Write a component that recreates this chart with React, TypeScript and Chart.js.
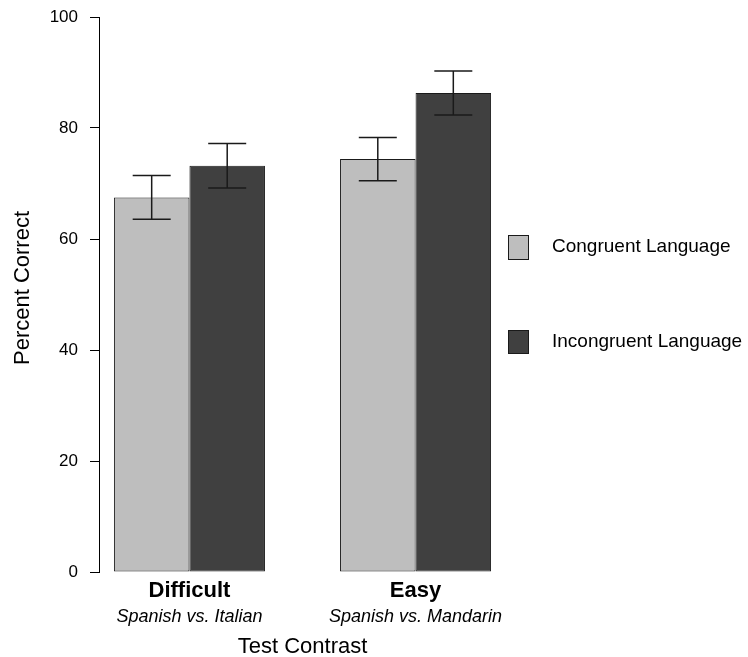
import React, { useEffect, useRef } from "react";
import { Chart, registerables } from "chart.js";

Chart.register(...registerables);

const categories = ["Difficult", "Easy"];
const subLabels = ["Spanish vs. Italian", "Spanish vs. Mandarin"];
const seriesNames = ["Congruent Language", "Incongruent Language"];
const congruent = [67.5, 74.4];
const incongruent = [73.2, 86.3];
const congruentErr = [3.95, 3.9];
const incongruentErr = [4.0, 3.95];
const yTicks = [0, 20, 40, 60, 80, 100];
const xTitle = "Test Contrast";
const yTitle = "Percent Correct";
const colors = ["#BEBEBE", "#404040"];

const FONT = "'Liberation Sans', Arial, Helvetica, sans-serif";

const overlayPlugin = {
  id: "overlay",
  afterDatasetsDraw(chart: any) {
    const ctx = chart.ctx;
    const errs = [congruentErr, incongruentErr];
    const yS = chart.scales.y;
    ctx.save();
    ctx.strokeStyle = "#1a1a1a";
    ctx.lineWidth = 1.5;
    chart.data.datasets.forEach((ds: any, di: number) => {
      const meta = chart.getDatasetMeta(di);
      meta.data.forEach((bar: any, i: number) => {
        const v = ds.data[i].y;
        const e = errs[di][i];
        const x = bar.x;
        const yt = yS.getPixelForValue(v + e);
        const yb = yS.getPixelForValue(v - e);
        const cap = 19;
        ctx.beginPath();
        ctx.moveTo(x, yt);
        ctx.lineTo(x, yb);
        ctx.moveTo(x - cap, yt);
        ctx.lineTo(x + cap, yt);
        ctx.moveTo(x - cap, yb);
        ctx.lineTo(x + cap, yb);
        ctx.stroke();
      });
    });
    ctx.restore();
  },
  afterDraw(chart: any) {
    const ctx = chart.ctx;
    const xS = chart.scales.x;
    ctx.save();
    ctx.fillStyle = "#000";
    ctx.textAlign = "center";
    ctx.textBaseline = "alphabetic";
    categories.forEach((c, i) => {
      const x = xS.getPixelForValue(i);
      ctx.font = `bold 22px ${FONT}`;
      ctx.fillText(c, x, 597);
      ctx.font = `italic 18px ${FONT}`;
      ctx.fillText(subLabels[i], x, 622);
    });
    ctx.font = `22px ${FONT}`;
    const cx = (xS.getPixelForValue(0) + xS.getPixelForValue(1)) / 2;
    ctx.fillText(xTitle, cx, 653);

    // y title
    ctx.save();
    ctx.translate(23, 288);
    ctx.rotate(-Math.PI / 2);
    ctx.textBaseline = "middle";
    ctx.font = `22px ${FONT}`;
    ctx.fillText(yTitle, 0, 0);
    ctx.restore();

    // legend
    const boxes = [
      { y: 235, h: 24, ty: 247 },
      { y: 330, h: 23, ty: 342 },
    ];
    seriesNames.forEach((name, i) => {
      const b = boxes[i];
      ctx.fillStyle = colors[i];
      ctx.fillRect(508.5, b.y + 0.5, 20, b.h);
      ctx.strokeStyle = "#1a1a1a";
      ctx.lineWidth = 1;
      ctx.strokeRect(508.5, b.y + 0.5, 20, b.h);
      ctx.fillStyle = "#000";
      ctx.textAlign = "left";
      ctx.textBaseline = "middle";
      ctx.font = `19px ${FONT}`;
      ctx.fillText(name, 552, b.ty);
    });
    ctx.restore();
  },
};

export default function App() {
  const ref = useRef<HTMLCanvasElement | null>(null);
  useEffect(() => {
    if (!ref.current) return;
    const chart = new Chart(ref.current, {
      type: "bar",
      data: {
        datasets: [
          {
            label: seriesNames[0],
            data: congruent.map((v, i) => ({ x: i, y: v })),
            backgroundColor: colors[0],
            borderColor: "#1a1a1a",
            borderWidth: 1,
            borderSkipped: false,
          },
          {
            label: seriesNames[1],
            data: incongruent.map((v, i) => ({ x: i, y: v })),
            backgroundColor: colors[1],
            borderColor: "#1a1a1a",
            borderWidth: 1,
            borderSkipped: false,
          },
        ],
      },
      options: {
        animation: false,
        responsive: true,
        maintainAspectRatio: false,
        barPercentage: 1,
        categoryPercentage: 0.668,
        layout: { padding: { left: 0, right: 242, top: 17, bottom: 85 } },
        plugins: {
          legend: { display: false },
          tooltip: { enabled: false },
        },
        scales: {
          x: {
            type: "linear",
            min: -0.4,
            max: 1.4,
            offset: false,
            display: false,
            afterBuildTicks: (s: any) => {
              s.ticks = [{ value: 0 }, { value: 1 }];
            },
          },
          y: {
            min: 0,
            max: 100,
            afterFit: (s: any) => {
              s.width = 99;
              s.paddingTop = 0;
              s.paddingBottom = 0;
            },
            afterBuildTicks: (s: any) => {
              s.ticks = yTicks.map((v) => ({ value: v }));
            },
            ticks: {
              stepSize: 20,
              padding: 12,
              color: "#000",
              font: { family: FONT, size: 17 },
            },
            grid: {
              drawOnChartArea: false,
              drawTicks: true,
              tickLength: 9,
              color: "#000",
            },
            border: { display: true, color: "#000", width: 1 },
          },
        },
      } as any,
      plugins: [overlayPlugin],
    });
    return () => chart.destroy();
  }, []);
  return (
    <div style={{ position: "fixed", left: 0, top: 0, width: 748, height: 657, background: "#fff" }}>
      <canvas ref={ref} />
    </div>
  );
}
